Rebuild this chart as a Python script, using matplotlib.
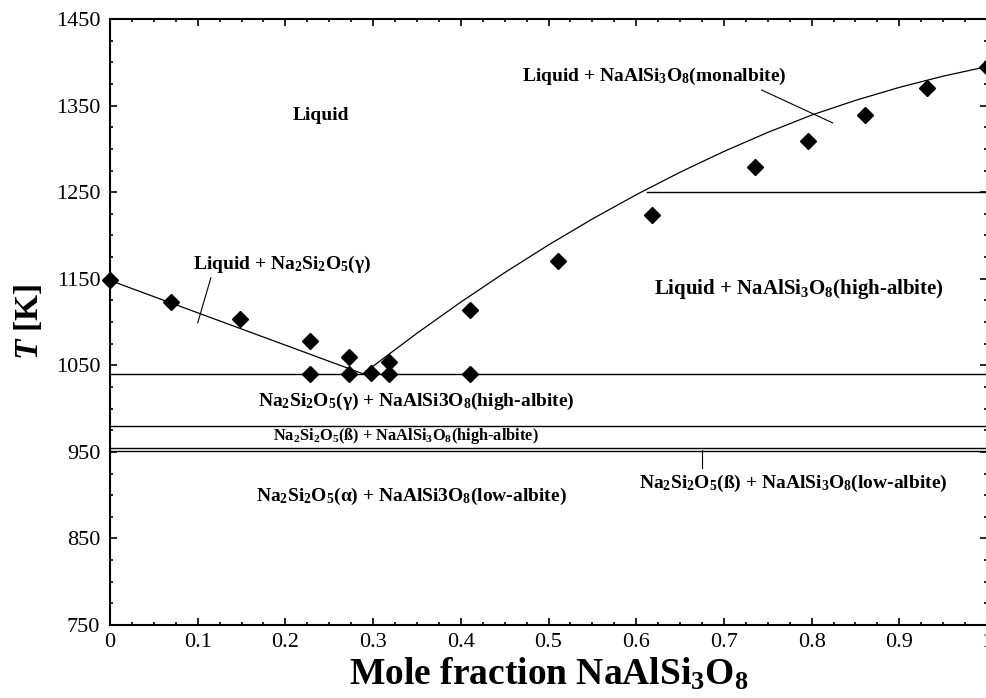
import numpy as np
import matplotlib
matplotlib.use("Agg")
import matplotlib.pyplot as plt
from matplotlib.ticker import MultipleLocator

plt.rcParams['font.family'] = ['Liberation Serif', 'DejaVu Serif']
plt.rcParams['mathtext.fontset'] = 'custom'
plt.rcParams['mathtext.rm'] = 'Liberation Serif:bold'
plt.rcParams['mathtext.bf'] = 'Liberation Serif:bold'
plt.rcParams['mathtext.it'] = 'Liberation Serif:bold:italic'
plt.rcParams['mathtext.default'] = 'rm'

# experimental liquidus / eutectic points
x_exp = [0.0, 0.07, 0.148, 0.228, 0.228, 0.272, 0.272, 0.298, 0.318, 0.318,
         0.41, 0.41, 0.511, 0.618, 0.735, 0.796, 0.861, 0.932, 1.0]
T_exp = [1148, 1123, 1104, 1078, 1040, 1059, 1040, 1041, 1054, 1040,
         1114, 1040, 1170, 1224, 1279, 1309, 1339, 1370, 1395]

# calculated liquidus, Na2Si2O5 side
x_liq_left = [0.0, 0.289]
T_liq_left = [1148, 1040]

# calculated liquidus, albite side
x_liq_right = [0.289, 0.30, 0.35, 0.40, 0.45, 0.50, 0.55, 0.60, 0.65,
               0.70, 0.75, 0.80, 0.85, 0.90, 0.95, 1.0]
T_liq_right = [1040, 1049, 1087, 1123, 1157, 1189, 1219, 1247, 1273,
               1297, 1319, 1339, 1356, 1371, 1384, 1395]

# invariant / transition temperatures
T_eutectic = 1040
T_gamma_beta = 980
T_high_low = [954, 951]
T_mono_high = 1250
x_mono_high = 0.612

# region labels: (x, T, text, size)
labels = [
    (0.240, 1339, 'Liquid', 14),
    (0.621, 1384, 'Liquid + NaAlSi$_3$O$_8$(monalbite)', 14),
    (0.196, 1166, 'Liquid + Na$_2$Si$_2$O$_5$(γ)', 14),
    (0.786, 1138, 'Liquid + NaAlSi$_3$O$_8$(high-albite)', 15),
    (0.349, 1008, 'Na$_2$Si$_2$O$_5$(γ) + NaAlSi3O$_8$(high-albite)', 14),
    (0.337, 968, 'Na$_2$Si$_2$O$_5$(ß) + NaAlSi$_3$O$_8$(high-albite)', 11.8),
    (0.779, 914, 'Na$_2$Si$_2$O$_5$(ß) + NaAlSi$_3$O$_8$(low-albite)', 14),
    (0.344, 898, 'Na$_2$Si$_2$O$_5$(α) + NaAlSi3O$_8$(low-albite)', 14),
]

# leader lines from labels to their fields
leaders = [
    ([0.100, 0.115], [1099, 1151]),
    ([0.743, 0.824], [1368, 1330]),
    ([0.675, 0.675], [952, 931]),
]

fig = plt.figure(figsize=(9.86, 6.98), dpi=100)
ax = fig.add_axes([110 / 986, 1 - 625 / 698, 877 / 986, 606 / 698])

ax.plot(x_liq_left, T_liq_left, color='black', lw=0.9)
ax.plot(x_liq_right, T_liq_right, color='black', lw=0.9)

ax.axhline(T_eutectic, color='black', lw=1.0)
ax.axhline(T_gamma_beta, color='black', lw=1.0)
for T in T_high_low:
    ax.axhline(T, color='black', lw=1.0)
ax.plot([x_mono_high, 1.0], [T_mono_high, T_mono_high], color='black', lw=1.0)

for xs, ts in leaders:
    ax.plot(xs, ts, color='black', lw=0.8)

ax.plot(x_exp, T_exp, linestyle='none', marker='D', ms=8,
        color='black', clip_on=False, zorder=5)

for x, T, s, size in labels:
    ax.text(x, T, s, ha='center', va='center', fontsize=size,
            fontweight='bold')

ax.set_xlim(0, 1)
ax.set_ylim(750, 1450)
ax.set_xticks(np.arange(0, 1.01, 0.1))
ax.set_xticklabels(['0', '0.1', '0.2', '0.3', '0.4', '0.5', '0.6', '0.7',
                    '0.8', '0.9', '1'])
ax.set_yticks(np.arange(750, 1451, 100))
ax.xaxis.set_minor_locator(MultipleLocator(0.025))
ax.yaxis.set_minor_locator(MultipleLocator(25))
ax.tick_params(which='both', direction='in', top=True, right=True,
               labelsize=16, width=1.2)
ax.tick_params(which='major', length=4.8)
ax.tick_params(which='minor', length=2.5)
ax.tick_params(axis='y', pad=7)
ax.tick_params(axis='x', pad=6)
for sp in ax.spines.values():
    sp.set_linewidth(1.5)

ax.set_xlabel('Mole fraction NaAlSi$_3$O$_8$', fontsize=27,
              fontweight='bold', labelpad=3)
ax.set_ylabel('$\\mathit{T}$ [K]', fontsize=24, fontweight='bold',
              labelpad=8)

fig.savefig('out.png', dpi=100)
